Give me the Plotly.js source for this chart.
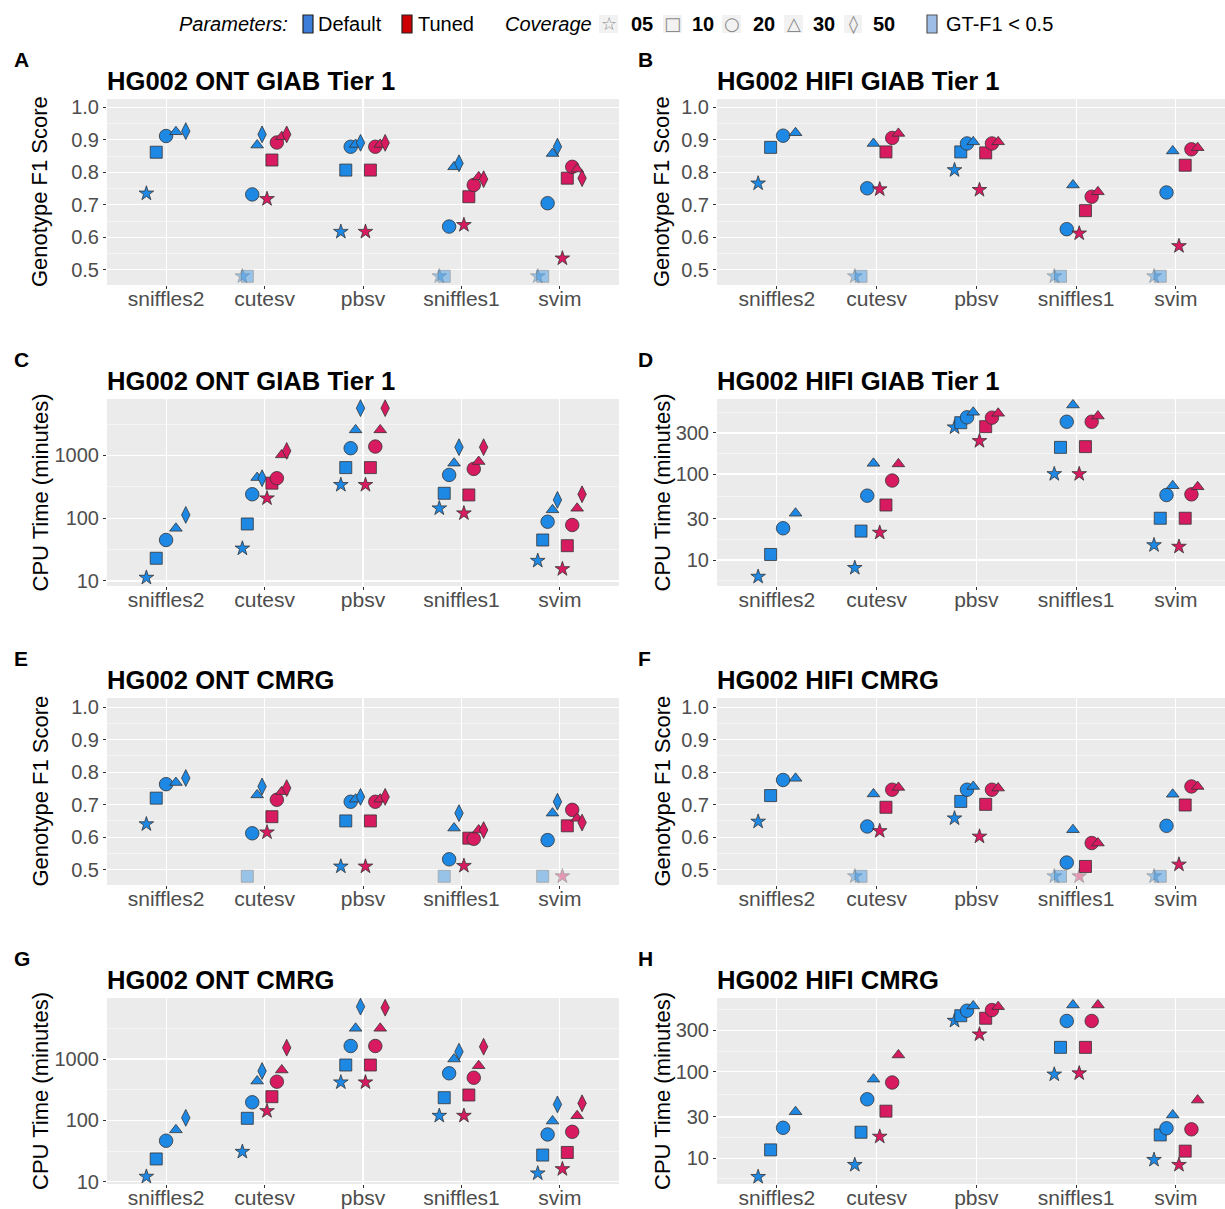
<!DOCTYPE html>
<html><head><meta charset="utf-8">
<script src="https://cdn.plot.ly/plotly-3.0.1.min.js"></script>
<style>body{margin:0;background:#fff}#chart{width:1225px;height:1209px}</style>
</head><body><div id="chart"></div>
<script>
// ---------------- DATA ----------------
const tools = ['sniffles2', 'cutesv', 'pbsv', 'sniffles1', 'svim'];
const covONT = ['05', '10', '20', '30', '50'];
const covHIFI = ['05', '10', '20', '30'];
// rows = tools (sniffles2, cutesv, pbsv, sniffles1, svim), columns = coverage
// values below 0.5 (GT-F1 < 0.5) are drawn at 0.48 in a faded colour

// A: HG002 ONT GIAB Tier 1 — Genotype F1
const A_default = [
  [0.735, 0.862, 0.912, 0.925, 0.927],
  [0.48, 0.48, 0.732, 0.884, 0.917],
  [0.617, 0.807, 0.879, 0.886, 0.891],
  [0.48, 0.48, 0.633, 0.817, 0.828],
  [0.48, 0.48, 0.705, 0.858, 0.879]
];
const A_tuned = [
  [null, null, null, null, null],
  [0.718, 0.838, 0.892, 0.910, 0.917],
  [0.617, 0.807, 0.879, 0.886, 0.891],
  [0.638, 0.725, 0.761, 0.786, 0.779],
  [0.535, 0.782, 0.817, 0.810, 0.782]
];
// B: HG002 HIFI GIAB Tier 1 — Genotype F1
const B_default = [
  [0.766, 0.877, 0.913, 0.922],
  [0.48, 0.48, 0.751, 0.889],
  [0.807, 0.863, 0.889, 0.894],
  [0.48, 0.48, 0.625, 0.761],
  [0.48, 0.48, 0.738, 0.866]
];
const B_tuned = [
  [null, null, null, null],
  [0.748, 0.863, 0.906, 0.920],
  [0.746, 0.860, 0.889, 0.894],
  [0.612, 0.682, 0.725, 0.740],
  [0.573, 0.822, 0.871, 0.876]
];
// C: HG002 ONT GIAB Tier 1 — CPU time (minutes)
const C_default = [
  [11.3, 23, 45, 69, 113],
  [33, 81, 241, 444, 434],
  [340, 641, 1306, 2557, 5676],
  [144, 250, 490, 754, 1356],
  [21, 45, 88, 136, 196]
];
const C_tuned = [
  [null, null, null, null, null],
  [208, 362, 434, 1023, 1183],
  [340, 641, 1387, 2557, 5676],
  [120, 235, 611, 800, 1356],
  [15.5, 36.5, 78, 144, 241]
];
// D: HG002 HIFI GIAB Tier 1 — CPU time (minutes)
const D_default = [
  [6.4, 11.6, 23.4, 35],
  [8.1, 21.7, 56, 133],
  [349, 395, 456, 522],
  [100, 204, 405, 634],
  [14.9, 30.6, 57, 73]
];
const D_tuned = [
  [null, null, null, null],
  [20.8, 43.6, 84, 131],
  [242, 355, 452, 508],
  [100, 208, 405, 472],
  [14.3, 30.6, 58, 71]
];
// E: HG002 ONT CMRG — Genotype F1
const E_default = [
  [0.640, 0.720, 0.763, 0.768, 0.782],
  [null, 0.48, 0.612, 0.730, 0.756],
  [0.510, 0.650, 0.709, 0.717, 0.724],
  [null, 0.48, 0.532, 0.628, 0.674],
  [null, 0.48, 0.591, 0.674, 0.709]
];
const E_tuned = [
  [null, null, null, null, null],
  [0.615, 0.663, 0.715, 0.740, 0.751],
  [0.510, 0.650, 0.709, 0.717, 0.724],
  [0.512, 0.597, 0.595, 0.622, 0.622],
  [0.48, 0.635, 0.684, 0.658, 0.645]
];
// F: HG002 HIFI CMRG — Genotype F1
const F_default = [
  [0.648, 0.728, 0.776, 0.781],
  [0.48, 0.48, 0.633, 0.733],
  [0.658, 0.710, 0.746, 0.756],
  [0.48, 0.48, 0.522, 0.623],
  [0.48, 0.48, 0.635, 0.732]
];
const F_tuned = [
  [null, null, null, null],
  [0.619, 0.692, 0.746, 0.753],
  [0.602, 0.701, 0.746, 0.751],
  [0.48, 0.510, 0.582, 0.582],
  [0.516, 0.699, 0.756, 0.756]
];
// G: HG002 ONT CMRG — CPU time (minutes)
const G_default = [
  [12.1, 23.5, 46.6, 70, 110],
  [30.8, 108, 197, 437, 637],
  [417, 798, 1629, 3162, 7130],
  [119, 234, 585, 1000, 1318],
  [13.7, 27.2, 59, 97.5, 182]
];
const G_tuned = [
  [null, null, null, null, null],
  [142, 243, 427, 662, 1528],
  [417, 798, 1629, 3162, 6855],
  [119, 259, 495, 778, 1585],
  [16.1, 30, 65, 119, 190]
];
// H: HG002 HIFI CMRG — CPU time (minutes)
const H_default = [
  [6.1, 12.5, 22.5, 34.5],
  [8.4, 20, 48, 82],
  [388, 443, 506, 574],
  [93, 191, 385, 589],
  [9.6, 18.6, 22.2, 31.6]
];
const H_tuned = [
  [null, null, null, null],
  [17.8, 35, 75, 156],
  [270, 414, 515, 563],
  [96, 191, 385, 589],
  [8.4, 12.1, 21.6, 47]
];

const f1Ticks = [0.5, 0.6, 0.7, 0.8, 0.9, 1.0];
const cpuTicksONT = [10, 100, 1000];
const cpuTicksHIFI = [10, 30, 100, 300];

// ---------------- STYLE / LAYOUT ----------------
const W = 1225, H = 1209;
const FONT = 'Liberation Sans, Arial, Helvetica, sans-serif';
const colDefault = '#1E88E5', colTuned = '#D81B60';
const symbolOf = {'05': 'star', '10': 'square', '20': 'circle', '30': 'triangle-up', '50': 'diamond-tall'};
const sizeOf = {'05': 11, '10': 12, '20': 13.5, '30': 11, '50': 12};

const colX = [[107, 619], [717, 1225]];
const rowY = [[99, 285], [399, 586], [698, 885], [998, 1184]];
const pxPerUnit = [98.46, 99.75];

const panels = [
  {letter: 'A', title: 'HG002 ONT GIAB Tier 1', def: A_default, tun: A_tuned, cov: covONT, kind: 'f1', range: [0.453, 1.026], col: 0, row: 0},
  {letter: 'B', title: 'HG002 HIFI GIAB Tier 1', def: B_default, tun: B_tuned, cov: covHIFI, kind: 'f1', range: [0.453, 1.026], col: 1, row: 0},
  {letter: 'C', title: 'HG002 ONT GIAB Tier 1', def: C_default, tun: C_tuned, cov: covONT, kind: 'cpuONT', range: [0.92, 3.90], col: 0, row: 1},
  {letter: 'D', title: 'HG002 HIFI GIAB Tier 1', def: D_default, tun: D_tuned, cov: covHIFI, kind: 'cpuHIFI', range: [0.698, 2.872], col: 1, row: 1},
  {letter: 'E', title: 'HG002 ONT CMRG', def: E_default, tun: E_tuned, cov: covONT, kind: 'f1', range: [0.453, 1.028], col: 0, row: 2},
  {letter: 'F', title: 'HG002 HIFI CMRG', def: F_default, tun: F_tuned, cov: covHIFI, kind: 'f1', range: [0.453, 1.028], col: 1, row: 2},
  {letter: 'G', title: 'HG002 ONT CMRG', def: G_default, tun: G_tuned, cov: covONT, kind: 'cpuONT', range: [0.963, 3.994], col: 0, row: 3},
  {letter: 'H', title: 'HG002 HIFI CMRG', def: H_default, tun: H_tuned, cov: covHIFI, kind: 'cpuHIFI', range: [0.703, 2.851], col: 1, row: 3}
];

const px = x => x / W;
const py = y => 1 - y / H;

const traces = [];
const layout = {
  width: W, height: H,
  margin: {l: 0, r: 0, t: 0, b: 0},
  paper_bgcolor: '#ffffff',
  plot_bgcolor: '#EBEBEB',
  showlegend: false,
  font: {family: FONT, color: '#000'},
  annotations: [],
  shapes: []
};

panels.forEach((p, k) => {
  const sfx = k === 0 ? '' : String(k + 1);
  const xa = 'x' + sfx, ya = 'y' + sfx;
  const [x0, x1] = colX[p.col];
  const [y0, y1] = rowY[p.row];
  const ncov = p.cov.length;
  const hasTuned = p.tun.map(r => r.some(v => v !== null));
  const isF1 = p.kind === 'f1';

  [['def', p.def, colDefault], ['tun', p.tun, colTuned]].forEach(([param, vals, col]) => {
    p.cov.forEach((cv, ci) => {
      const xs = [], ys = [], op = [];
      tools.forEach((t, ti) => {
        const v = vals[ti][ci];
        const n = hasTuned[ti] ? 2 * ncov : ncov;
        const g = param === 'tun' ? ncov + ci : ci;
        const off = -0.25 + (g + 0.5) * 0.5 / n;
        xs.push(ti + 1 + off);
        ys.push(v);
        op.push(isF1 && v !== null && v < 0.5 ? 0.4 : 1);
      });
      traces.push({
        type: 'scatter', mode: 'markers', xaxis: xa, yaxis: ya,
        x: xs, y: ys, hoverinfo: 'skip', cliponaxis: false,
        marker: {symbol: symbolOf[cv], size: sizeOf[cv], color: col, opacity: op,
                 line: {color: '#333333', width: 0.8}}
      });
    });
  });

  layout['xaxis' + sfx] = {
    domain: [px(x0), px(x1)], anchor: ya,
    range: [0.4, 0.4 + (x1 - x0) / pxPerUnit[p.col]],
    tickmode: 'array', tickvals: [1, 2, 3, 4, 5], ticktext: tools,
    showgrid: true, gridcolor: '#ffffff', gridwidth: 1.1,
    zeroline: false, showline: false,
    ticks: 'outside', ticklen: 3, tickwidth: 1, tickcolor: '#333333',
    ticklabelstandoff: -8,
    tickfont: {family: FONT, size: 21, color: '#4d4d4d'},
    fixedrange: true
  };
  const yax = {
    domain: [py(y1), py(y0)], anchor: xa,
    range: p.range,
    showgrid: true, gridcolor: '#ffffff', gridwidth: 1.1,
    zeroline: false, showline: false,
    ticks: 'outside', ticklen: 3, tickwidth: 1, tickcolor: '#333333',
    tickfont: {family: FONT, size: 20, color: '#4d4d4d'},
    fixedrange: true
  };
  if (isF1) {
    Object.assign(yax, {type: 'linear', tickmode: 'array', tickvals: f1Ticks,
      ticktext: f1Ticks.map(v => v.toFixed(1)),
      minor: {tickmode: 'linear', tick0: 0.5, dtick: 0.05, showgrid: true, gridcolor: '#ffffff', gridwidth: 0.5, ticks: ''}});
  } else if (p.kind === 'cpuONT') {
    Object.assign(yax, {type: 'log', tickmode: 'array', tickvals: cpuTicksONT,
      ticktext: cpuTicksONT.map(String),
      minor: {tickmode: 'array', tickvals: [3.162, 31.62, 316.2, 3162], showgrid: true, gridcolor: '#ffffff', gridwidth: 0.5, ticks: ''}});
  } else {
    Object.assign(yax, {type: 'log', tickmode: 'array', tickvals: cpuTicksHIFI,
      ticktext: cpuTicksHIFI.map(String),
      minor: {tickmode: 'array', tickvals: [5.77, 17.32, 54.77, 173.2, 519.6], showgrid: true, gridcolor: '#ffffff', gridwidth: 0.5, ticks: ''}});
  }
  layout['yaxis' + sfx] = yax;

  // panel letter
  layout.annotations.push({xref: 'paper', yref: 'paper', x: px(p.col === 0 ? 12 : 636), y: py(y0 - 40),
    xanchor: 'left', yanchor: 'middle', showarrow: false,
    text: '<b>' + p.letter + '</b>', font: {family: FONT, size: 21, color: '#000'}});
  // title
  layout.annotations.push({xref: 'paper', yref: 'paper', x: px(x0 - 2), y: py(y0 - 18),
    xanchor: 'left', yanchor: 'middle', showarrow: false,
    text: '<b>' + p.title + '</b>', font: {family: FONT, size: 25.6, color: '#000'}});
  // y-axis title
  layout.annotations.push({xref: 'paper', yref: 'paper', x: px(p.col === 0 ? 40 : 662), y: py((y0 + y1) / 2),
    xanchor: 'center', yanchor: 'middle', showarrow: false, textangle: -90,
    text: isF1 ? 'Genotype F1 Score' : 'CPU Time (minutes)', font: {family: FONT, size: 22, color: '#000'}});
});

// ---------------- TOP LEGEND ----------------
const LY = 24;
function legText(x, txt, opts) {
  layout.annotations.push(Object.assign({xref: 'paper', yref: 'paper', x: px(x), y: py(LY),
    xanchor: 'left', yanchor: 'middle', showarrow: false, text: txt,
    font: {family: FONT, size: 20, color: '#000'}}, opts || {}));
}
function legRect(xa, xb, fill, line) {
  layout.shapes.push({type: 'rect', xref: 'paper', yref: 'paper', x0: px(xa), x1: px(xb), y0: py(LY + 9), y1: py(LY - 9),
    fillcolor: fill, line: {color: line, width: line === 'rgba(0,0,0,0)' ? 0 : 1.2}, layer: 'above'});
}
legText(177, '<i>Parameters:</i>');
legRect(303, 313, '#3B7DD8', '#222222');
legText(316, 'Default');
legRect(402, 412, '#CC0000', '#222222');
legText(416, 'Tuned');
legText(503, '<i>Coverage</i>');
const covKeys = [
  {bg: [599, 618], sym: '☆', label: '05', lx: 629},
  {bg: [663, 682], sym: '□', label: '10', lx: 690},
  {bg: [722, 741], sym: '○', label: '20', lx: 751},
  {bg: [784, 803], sym: '△', label: '30', lx: 811},
  {bg: [844, 862], sym: '◊', label: '50', lx: 871}
];
covKeys.forEach(c => {
  legRect(c.bg[0], c.bg[1], '#F2F2F2', 'rgba(0,0,0,0)');
  layout.annotations.push({xref: 'paper', yref: 'paper', x: px((c.bg[0] + c.bg[1]) / 2), y: py(LY),
    xanchor: 'center', yanchor: 'middle', showarrow: false, text: c.sym,
    font: {family: 'DejaVu Sans, sans-serif', size: 18, color: '#8a8a8a'}});
  legText(c.lx, '<b>' + c.label + '</b>');
});
legRect(927, 937, '#9DBDE6', '#555555');
legText(944, 'GT-F1 &lt; 0.5');

Plotly.newPlot('chart', traces, layout, {staticPlot: true, displayModeBar: false});
</script></body></html>
